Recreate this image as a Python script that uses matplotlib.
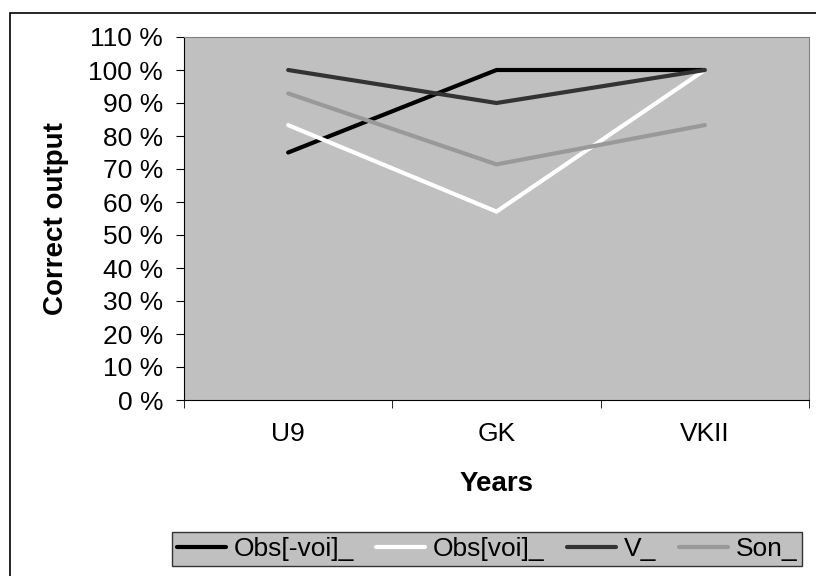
import matplotlib.pyplot as plt
from matplotlib.patches import Rectangle
from matplotlib.ticker import FixedLocator

plt.rcParams['font.family'] = ['Liberation Sans', 'DejaVu Sans']

groups = ['U9', 'GK', 'VKII']
obs_minus_voi = [75, 100, 100]
obs_voi = [83.3, 57.1, 100]
v_series = [100, 90, 100]
son_series = [92.9, 71.4, 83.3]

series = [
    ('Obs[-voi]_', obs_minus_voi, '#000000'),
    ('Obs[voi]_', obs_voi, '#ffffff'),
    ('V_', v_series, '#333333'),
    ('Son_', son_series, '#999999'),
]

fig = plt.figure(figsize=(8.16, 5.76), dpi=100)
ax = fig.add_axes([184 / 816, 176 / 576, 625 / 816, 363 / 576])
ax.set_facecolor('#c0c0c0')

x = range(len(groups))
for name, vals, col in series:
    ax.plot(x, vals, color=col, lw=3, solid_capstyle='round',
            solid_joinstyle='miter', label=name)

ax.set_xlim(-0.5, len(groups) - 0.5)
ax.set_ylim(0, 110)
ax.set_yticks(range(0, 111, 10))
ax.set_yticklabels([f'{v} %' for v in range(0, 111, 10)], fontsize=19)
ax.set_xticks(list(x))
ax.set_xticklabels(groups, fontsize=19)
ax.xaxis.set_minor_locator(FixedLocator([-0.5, 0.5, 1.5, 2.5]))
ax.tick_params(axis='x', which='major', length=0, pad=16)
ax.tick_params(axis='x', which='minor', length=6, direction='out')
ax.tick_params(axis='y', length=6, direction='out', pad=9)

for s in ('left', 'bottom'):
    ax.spines[s].set_color('black')
for s in ('top', 'right'):
    ax.spines[s].set_color('#808080')

ax.set_ylabel('Correct output', fontsize=20, fontweight='bold', labelpad=14)
ax.set_xlabel('Years', fontsize=20, fontweight='bold', labelpad=18)

# outer chart border
fig.patches.append(Rectangle((10 / 816, -0.1), 1.0, (563 / 576) + 0.1,
                             transform=fig.transFigure, fill=False,
                             edgecolor='black', lw=1.2))

leg = fig.legend(loc='center', ncol=4,
                 bbox_to_anchor=(487 / 816, 27 / 576),
                 fontsize=19, handlelength=1.85, handletextpad=0.3,
                 columnspacing=0.85, fancybox=False, borderpad=0.2,
                 borderaxespad=0)
leg.get_frame().set_facecolor('#c0c0c0')
leg.get_frame().set_edgecolor('#333333')
leg.get_frame().set_alpha(1)

fig.savefig('out.png', dpi=100)
